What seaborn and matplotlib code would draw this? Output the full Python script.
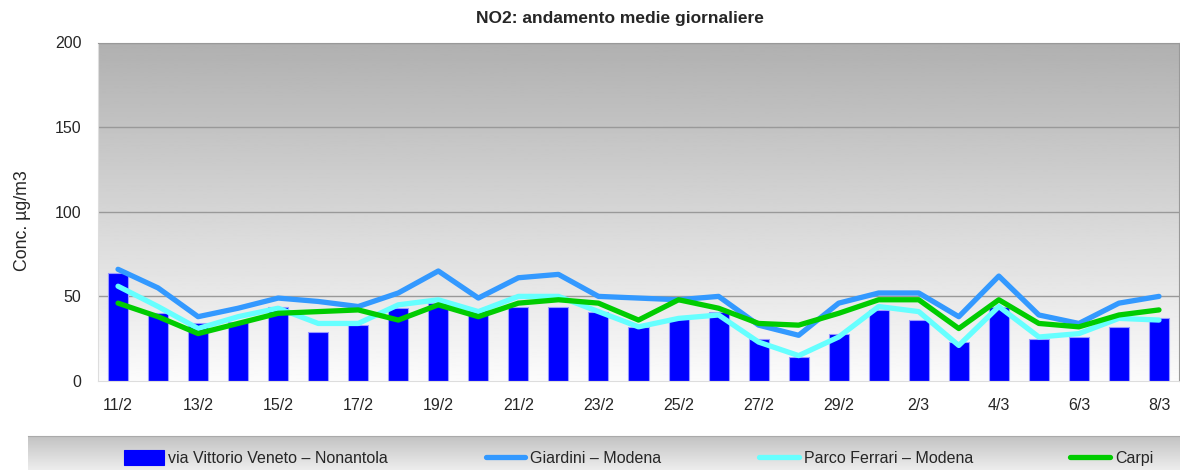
import numpy as np
import pandas as pd
import matplotlib
matplotlib.use("Agg")
import matplotlib.pyplot as plt
import seaborn as sns

# daily dates (leap year: 29/2 included)
dates = ["11/2", "12/2", "13/2", "14/2", "15/2", "16/2", "17/2", "18/2", "19/2",
         "20/2", "21/2", "22/2", "23/2", "24/2", "25/2", "26/2", "27/2", "28/2",
         "29/2", "1/3", "2/3", "3/3", "4/3", "5/3", "6/3", "7/3", "8/3"]

# daily NO2 means (µg/m3)
nonantola = [64, 40, 34, 35, 44, 29, 33, 43, 46,
             42, 44, 44, 41, 32, 37, 41, 25, 14,
             28, 42, 36, 23, 44, 25, 26, 32, 37]
giardini = [66, 55, 38, 43, 49, 47, 44, 52, 65,
            49, 61, 63, 50, 49, 48, 50, 33, 27,
            46, 52, 52, 38, 62, 39, 34, 46, 50]
parco_ferrari = [56, 44, 31, 38, 43, 34, 34, 45, 48,
                 41, 50, 50, 41, 32, 37, 39, 23, 15,
                 26, 44, 41, 21, 44, 26, 28, 37, 36]
carpi = [46, 38, 28, 34, 40, 41, 42, 36, 45,
         38, 46, 48, 46, 36, 48, 43, 34, 33,
         40, 48, 48, 31, 48, 34, 32, 39, 42]

labels = ["via Vittorio Veneto – Nonantola", "Giardini – Modena",
          "Parco Ferrari – Modena", "Carpi"]

df = pd.DataFrame({
    "data": dates,
    "pos": np.arange(len(dates)),
    "nonantola": nonantola,
    "giardini": giardini,
    "parco": parco_ferrari,
    "carpi": carpi,
})

sns.set_style("white")
plt.rcParams["font.family"] = ["Liberation Sans", "DejaVu Sans"]

fig = plt.figure(figsize=(11.8, 4.7), dpi=100)
ax = fig.add_axes([98 / 1180, 89 / 470, 1081 / 1180, 338.5 / 470])

# gray gradient background of the plot area (dark on top, white at bottom)
grad = np.linspace(0.985, 0.69, 256).reshape(-1, 1)
ax.imshow(grad, cmap="gray", vmin=0, vmax=1, extent=[0, 1, 0, 1],
          transform=ax.transAxes, aspect="auto", zorder=0, origin="lower")

sns.barplot(data=df, x="data", y="nonantola", color="#0000ff", width=0.5,
            edgecolor="#9999ff", linewidth=0.8, saturation=1,
            label=labels[0], ax=ax, zorder=2)
sns.lineplot(data=df, x="pos", y="giardini", color="#3399ff", lw=3.8,
             label=labels[1], ax=ax, zorder=3)
sns.lineplot(data=df, x="pos", y="parco", color="#66ffff", lw=3.8,
             label=labels[2], ax=ax, zorder=4)
sns.lineplot(data=df, x="pos", y="carpi", color="#00cc00", lw=3.8,
             label=labels[3], ax=ax, zorder=5)

ax.set_xlim(-0.5, len(dates) - 0.5)
ax.set_ylim(0, 200)
ax.set_yticks([0, 50, 100, 150, 200])
for y in [50, 100, 150, 200]:
    ax.axhline(y, color="#999999", lw=1, zorder=1)

ax.set_xticks(np.arange(0, len(dates), 2), labels=dates[::2])
ax.set_xticks(np.arange(-0.5, len(dates), 2), minor=True)
ax.tick_params(axis="x", which="major", length=0, pad=12, labelsize=11.5)
ax.tick_params(axis="x", which="minor", length=7, color="#dddddd", width=1)
ax.tick_params(axis="y", length=8, color="#dddddd", labelsize=11.5, pad=4)

for side in ["left", "bottom"]:
    ax.spines[side].set_color("#dddddd")
for side in ["top", "right"]:
    ax.spines[side].set_color("#999999")

ax.set_xlabel("")
ax.set_ylabel("Conc. µg/m3", fontsize=12.8)
ax.yaxis.set_label_coords(-0.062, 0.473)
fig.text(0.525, 0.96, "NO2: andamento medie giornaliere", ha="center",
         va="center", fontsize=12.5, fontweight="bold")

# legend strip at the bottom, bars first
handles, hlabels = ax.get_legend_handles_labels()
order = [hlabels.index(lab) for lab in labels]
handles = [handles[i] for i in order]
ax.get_legend().remove()
lax = fig.add_axes([28 / 1180, 0, 1152 / 1180, 34 / 470])
lgrad = np.linspace(0.93, 0.76, 256).reshape(-1, 1)
lax.imshow(lgrad, cmap="gray", vmin=0, vmax=1, extent=[0, 1, 0, 1],
           aspect="auto", origin="lower")
lax.set_xlim(0, 1)
lax.set_ylim(0, 1)
lax.set_xticks([])
lax.set_yticks([])
for side in ["left", "bottom", "right"]:
    lax.spines[side].set_visible(False)
lax.spines["top"].set_color("#aaaaaa")

leg = fig.legend(handles, labels, ncol=4, frameon=False, loc="center",
                 bbox_to_anchor=(0.541, 12 / 470), fontsize=11.5,
                 handlelength=2.5, handletextpad=0.3, columnspacing=6.1,
                 handleheight=1.1)
leg.legend_handles[0].set_edgecolor("#0000ff")

plt.savefig("out.png", dpi=100)
